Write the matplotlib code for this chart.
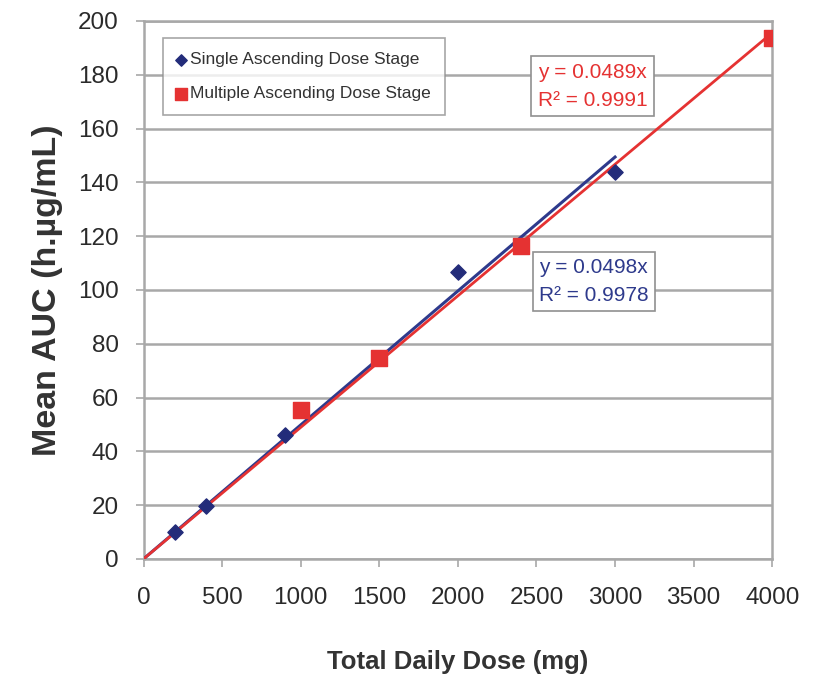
import matplotlib
matplotlib.use("Agg")
import matplotlib.pyplot as plt
import numpy as np

# Data
sad_dose = [200, 400, 900, 2000, 3000]
sad_auc = [10, 19.5, 46, 106.8, 144]
mad_dose = [1000, 1500, 2400, 4000]
mad_auc = [55.5, 74.8, 116.3, 193.5]
sad_slope = 0.0498
mad_slope = 0.0489
sad_eq = "y = 0.0498x\nR² = 0.9978"
mad_eq = "y = 0.0489x\nR² = 0.9991"
x_ticks = [0, 500, 1000, 1500, 2000, 2500, 3000, 3500, 4000]
y_ticks = [0, 20, 40, 60, 80, 100, 120, 140, 160, 180, 200]

NAVY = "#232C7A"
NAVY_LINE = "#2E3A8C"
RED = "#E53232"
GRID = "#A8A8A8"
SANS = ["Liberation Sans", "DejaVu Sans"]

fig = plt.figure(figsize=(8.25, 6.75), dpi=100)
ax = fig.add_axes([0.174, 0.172, 0.762, 0.797])

ax.set_xlim(0, 4000)
ax.set_ylim(0, 200)
ax.set_xticks(x_ticks)
ax.set_yticks(y_ticks)
ax.set_xticklabels([str(t) for t in x_ticks], family=SANS, fontsize=17.5, color="#2a2a2a")
ax.set_yticklabels([str(t) for t in y_ticks], family=SANS, fontsize=17.5, color="#2a2a2a")
ax.tick_params(axis="x", direction="out", length=6, width=1.2, color=GRID, pad=14)
ax.tick_params(axis="y", direction="out", length=6, width=1.2, color=GRID, pad=12)

ax.yaxis.grid(True, color=GRID, linewidth=1.8)
ax.xaxis.grid(False)
ax.set_axisbelow(True)
for s in ax.spines.values():
    s.set_color(GRID)
    s.set_linewidth(1.8)

# Trend lines
xs_sad = np.array([0, max(sad_dose)])
xs_mad = np.array([0, max(mad_dose)])
ax.plot(xs_sad, sad_slope * xs_sad, color=NAVY_LINE, lw=2.2, zorder=3)
ax.plot(xs_mad, mad_slope * xs_mad, color=RED, lw=2.0, zorder=4)

ax.scatter(sad_dose, sad_auc, marker="D", s=60, color=NAVY, zorder=5,
           label="Single Ascending Dose Stage")
ax.scatter(mad_dose, mad_auc, marker="s", s=125, color=RED, zorder=5,
           label="Multiple Ascending Dose Stage")

leg = ax.legend(loc="upper left", bbox_to_anchor=(0.031, 0.968), prop={"family": SANS, "size": 12.5},
                frameon=True, fancybox=False, edgecolor="#909090", handlelength=0.5,
                handletextpad=0.25, borderpad=0.8, labelspacing=1.1, markerscale=0.75,
                borderaxespad=0)
leg.get_frame().set_linewidth(1.2)
for t in leg.get_texts():
    t.set_color("#333333")

ax.text(0.627, 0.879, mad_eq, transform=ax.transAxes, family=SANS, fontsize=15,
        color=RED, va="center", ha="left", linespacing=1.6,
        bbox=dict(boxstyle="square,pad=0.3", fc="white", ec="#909090", lw=1.2), zorder=6)
ax.text(0.629, 0.516, sad_eq, transform=ax.transAxes, family=SANS, fontsize=15,
        color=NAVY_LINE, va="center", ha="left", linespacing=1.6,
        bbox=dict(boxstyle="square,pad=0.3", fc="white", ec="#909090", lw=1.2), zorder=6)

ax.set_xlabel("Total Daily Dose (mg)", family=SANS, fontsize=18.5, fontweight="bold",
              color="#333333", labelpad=30)
ax.set_ylabel("Mean AUC (h.µg/mL)", family=SANS, fontsize=24.5, fontweight="bold",
              color="#333333", labelpad=11)

fig.savefig("out.png", dpi=100)
